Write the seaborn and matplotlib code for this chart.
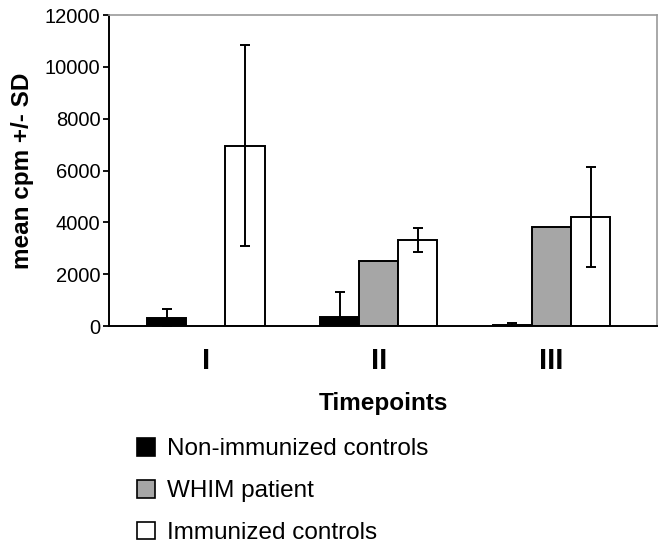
import numpy as np
import pandas as pd
import matplotlib
matplotlib.use('Agg')
import matplotlib.pyplot as plt
import seaborn as sns
from matplotlib.patches import Patch

# data
timepoints = ['I', 'II', 'III']
groups = ['Non-immunized controls', 'WHIM patient', 'Immunized controls']
non_immunized = [320, 360, 40]
non_immunized_sd = [350, 940, 60]
whim = [np.nan, 2500, 3820]
immunized = [6950, 3320, 4200]
immunized_sd = [3880, 470, 1930]

colors = ['#000000', '#a6a6a6', '#ffffff']

sns.set_style('white')
plt.rcParams['font.family'] = ['Liberation Sans', 'DejaVu Sans']
for k in ['text.color', 'axes.labelcolor', 'xtick.color', 'ytick.color']:
    plt.rcParams[k] = 'black'

df = pd.DataFrame({
    'timepoint': timepoints * 3,
    'group': np.repeat(groups, 3),
    'cpm': non_immunized + whim + immunized,
})

fig = plt.figure(figsize=(6.65, 5.44), dpi=100)
ax = fig.add_axes([0.164, 0.4007, 0.824, 0.5717])

width = 0.68
sns.barplot(data=df, x='timepoint', y='cpm', hue='group', order=timepoints,
            hue_order=groups, palette=colors, width=width, errorbar=None,
            edgecolor='black', linewidth=1.4, legend=False, ax=ax)

# SD error bars
step = width / 3
x = np.arange(len(timepoints))
ax.errorbar(x - step, non_immunized, yerr=non_immunized_sd, fmt='none',
            ecolor='black', elinewidth=1.4, capsize=3.5, capthick=1.4, zorder=5)
ax.errorbar(x + step, immunized, yerr=immunized_sd, fmt='none',
            ecolor='black', elinewidth=1.4, capsize=3.5, capthick=1.4, zorder=5)

ax.set_ylim(0, 12000)
ax.set_xlim(-0.56, 2.61)
ax.set_yticks(range(0, 12001, 2000))
ax.tick_params(axis='y', direction='out', length=4.3, width=1.3, labelsize=14.5,
               left=True, pad=2)
ax.tick_params(axis='x', length=0, labelsize=21, pad=15)
for t in ax.get_xticklabels():
    t.set_fontweight('bold')

ax.set_xlabel('Timepoints', fontsize=17.5, fontweight='bold', labelpad=12)
ax.set_ylabel('mean cpm +/- SD', fontsize=17.5, fontweight='bold', labelpad=8)

for s in ['left', 'bottom']:
    ax.spines[s].set_color('black')
    ax.spines[s].set_linewidth(1.4)
for s in ['top', 'right']:
    ax.spines[s].set_color('#999999')
    ax.spines[s].set_linewidth(1.2)

handles = [Patch(facecolor=c, edgecolor='black', linewidth=1.2) for c in colors]
fig.legend(handles, groups, loc='upper left', bbox_to_anchor=(0.206, 0.195),
           frameon=False, fontsize=17.5, handlelength=0.75, handleheight=0.75,
           handletextpad=0.5, labelspacing=0.8, borderpad=0, borderaxespad=0)

fig.savefig('out.png', dpi=100)
